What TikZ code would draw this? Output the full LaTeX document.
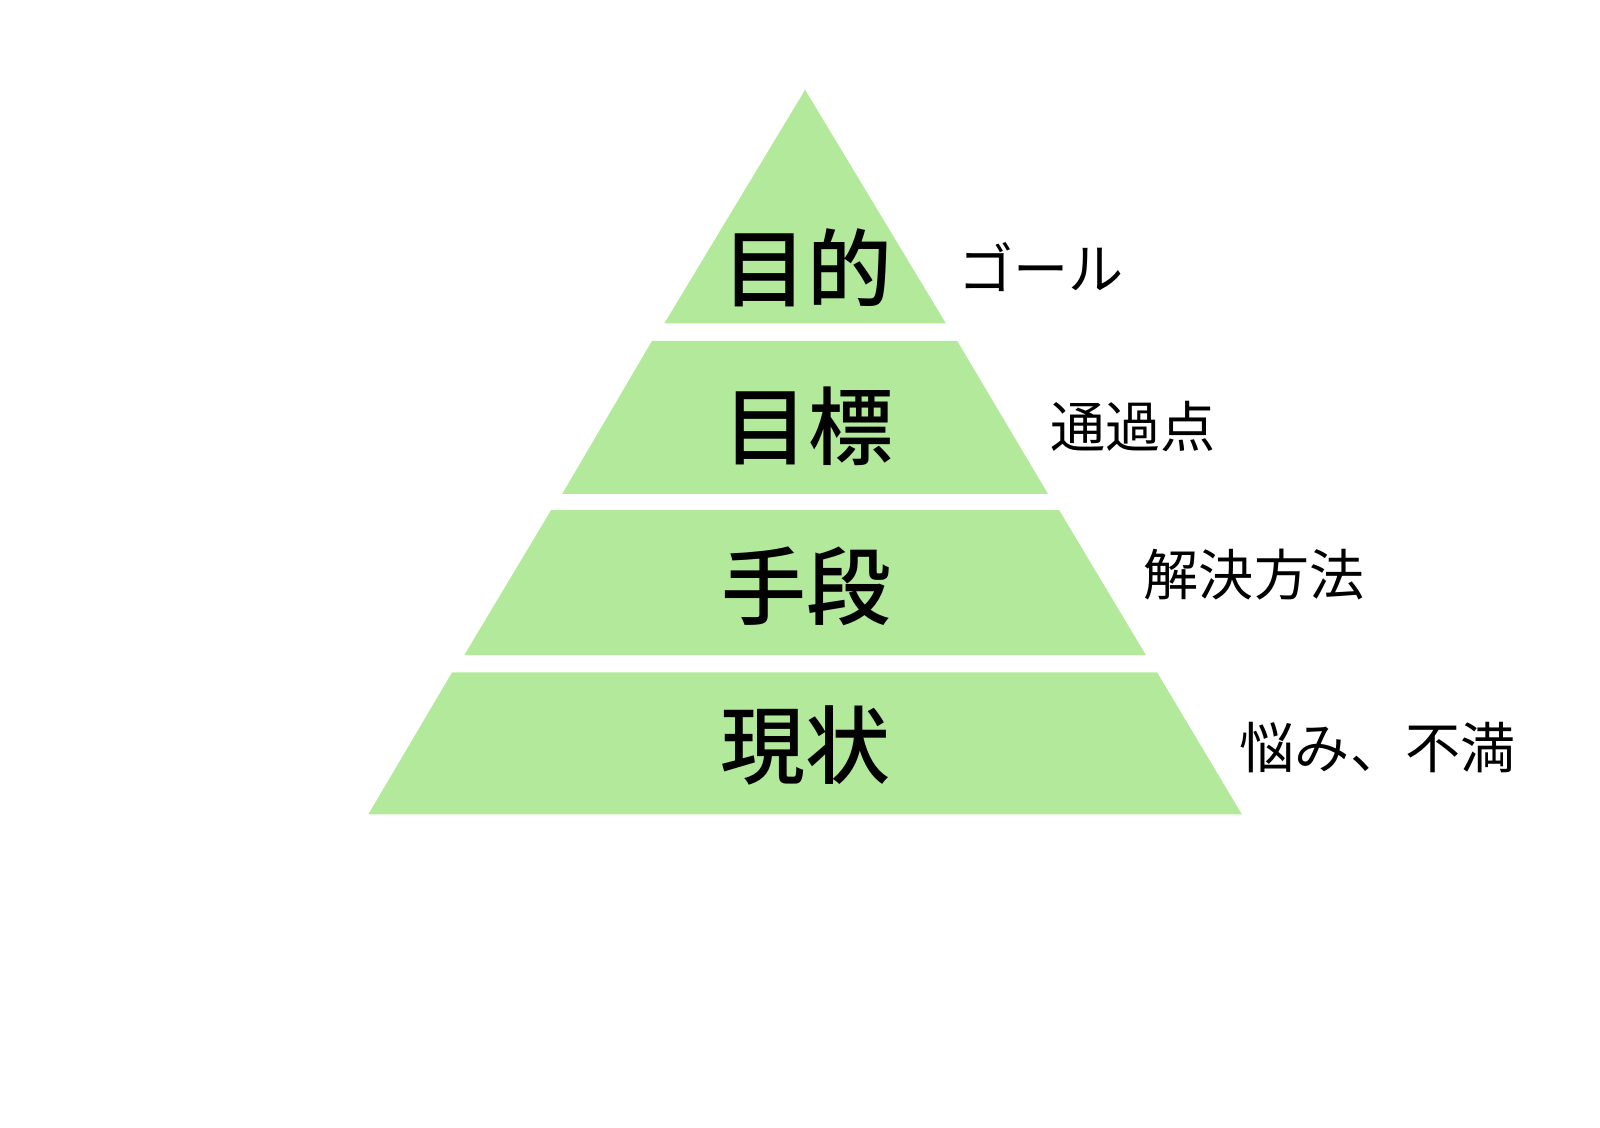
\documentclass[tikz,border=0pt]{standalone}
\usepackage{fontspec}
\newfontfamily\jpfont{Noto Sans CJK JP}
\newfontfamily\jpbold{Noto Sans CJK JP Medium}
\definecolor{layer}{HTML}{B2E99A}
\begin{document}
\begin{tikzpicture}[x=0.5pt,y=-0.5pt,
  layerfill/.style={fill=layer,draw=none},
  mainlbl/.style={font=\jpbold\fontsize{41.6}{44}\selectfont,inner sep=0pt,anchor=center},
  sidelbl/.style={font=\jpfont\fontsize{27}{30}\selectfont,inner sep=0pt,anchor=center}]
\useasboundingbox (0,0) rectangle (1568,1105.4);
% layers (apex 789,88; half-width 0.603*(y-88))
\fill[layerfill] (789,88) -- (927,317) -- (651,317) -- cycle;
\fill[layerfill] (639,334) -- (938,334) -- (1027,484) -- (551,484) -- cycle;
\fill[layerfill] (540,500) -- (1038,500) -- (1123,642) -- (455,642) -- cycle;
\fill[layerfill] (443,659) -- (1134,659) -- (1217,798) -- (361,798) -- cycle;
% main labels
\node[mainlbl] (m1) at (791,262) {目的};
\node[mainlbl] (m2) at (792,418) {目標};
\node[mainlbl] (m3) at (790,575) {手段};
\node[mainlbl] (m4) at (789,731) {現状};
% side labels
\node[sidelbl] (s1) at (1020,262) {ゴール};
\node[sidelbl] (s2) at (1110,418) {通過点};
\node[sidelbl] (s3) at (1229,563) {解決方法};
\node[sidelbl] (s4) at (1350,733) {悩み、不満};
\end{tikzpicture}
\end{document}
